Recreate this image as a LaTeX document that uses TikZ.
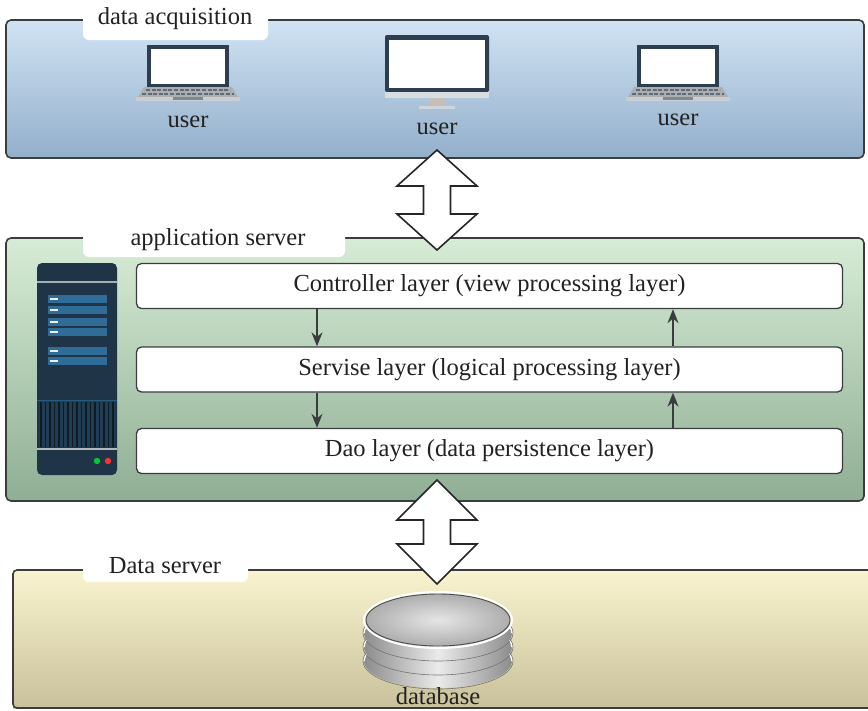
\documentclass[tikz,border=0pt]{standalone}
\usepackage{fontspec}
\setmainfont{LiberationSerif}[Extension=.ttf, UprightFont=*-Regular, BoldFont=*-Bold]
\usetikzlibrary{arrows.meta,calc}

\definecolor{edgegray}{HTML}{3A3D40}
\definecolor{txt}{HTML}{222222}
\definecolor{bluetop}{HTML}{D0E3F3}
\definecolor{bluebot}{HTML}{93AFCB}
\definecolor{greentop}{HTML}{D7ECD6}
\definecolor{greenbot}{HTML}{8FAE94}
\definecolor{yellowtop}{HTML}{F9F3CF}
\definecolor{yellowbot}{HTML}{C8C19B}
\definecolor{navy}{HTML}{1F3547}
\definecolor{navydark}{HTML}{0E1A24}
\definecolor{slotblue}{HTML}{2F6C98}
\definecolor{bezel}{HTML}{2C3E50}
\definecolor{alu}{HTML}{C9CED2}
\definecolor{keys}{HTML}{5E6B77}

\tikzset{
  panel/.style={draw=edgegray, line width=1.6pt, rounded corners=5pt},
  tab/.style={fill=white, rounded corners=6pt},
  bigtext/.style={text=txt, font=\fontsize{24.5}{27}\selectfont, inner sep=0pt},
  layer/.style={draw=edgegray, line width=1.3pt, fill=white, rounded corners=5pt,
    minimum width=706pt, minimum height=45pt, text=txt,
    font=\fontsize{24.5}{27}\selectfont},
  flow/.style={draw=edgegray, line width=1.8pt, -{Stealth[length=14pt,width=11pt]}},
  bigarrow/.style={draw=black!85, line width=1.6pt, fill=white, line join=miter},
}

% laptop icon: screen centre x, screen top y
\newcommand\laptopicon[1]{%
  \begin{scope}[shift={#1}]
    \fill[bezel] (-41,0) rectangle (41,42);
    \fill[white] (-37,4) rectangle (37,39);
    \fill[alu!85!black] (-44,42) -- (44,42) -- (50,52) -- (-50,52) -- cycle;
    \draw[keys, line width=2.2pt, dash pattern=on 4pt off 1.6pt] (-42,45) -- (42,45);
    \draw[keys, line width=2.2pt, dash pattern=on 4pt off 1.6pt] (-46,49) -- (46,49);
    \fill[alu] (-52,52) rectangle (52,56);
    \fill[keys!80] (-15,52) rectangle (15,55);
  \end{scope}}

% double-headed block arrow: centre, half length, head length, head half width, shaft half width
\newcommand\dblarrow[5]{%
  \begin{scope}[shift={#1}]
    \draw[bigarrow] (0,-#2) -- (#4,-#2+#3) -- (#5,-#2+#3) -- (#5,#2-#3)
      -- (#4,#2-#3) -- (0,#2) -- (-#4,#2-#3) -- (-#5,#2-#3)
      -- (-#5,-#2+#3) -- (-#4,-#2+#3) -- cycle;
  \end{scope}}

\begin{document}
\begin{tikzpicture}[x=1pt,y=-1pt]
\useasboundingbox (0,0) rectangle (868,710);
\fill[white] (0,0) rectangle (868,710);

% ---------------- data acquisition tier ----------------
\shade[top color=bluetop, bottom color=bluebot, rounded corners=5pt] (6,20) rectangle (864,158);
\draw[panel] (6,20) rectangle (864,158);
\fill[tab] (83,3) rectangle (268,40);
\node[bigtext] (acqlabel) at (175,19) {data acquisition};

\laptopicon{(188,45)}
\laptopicon{(678,45)}
\node[bigtext] (user1) at (188,122) {user};
\node[bigtext] (user3) at (678,120) {user};

% desktop monitor
\begin{scope}[shift={(437,35)}]
  \fill[bezel, rounded corners=2pt] (-52,0) rectangle (52,57);
  \fill[white] (-48,5) rectangle (48,53);
  \fill[alu!70] (-52,57) rectangle (52,63);
  \fill[alu!80!brown] (-7,63) -- (7,63) -- (9,72) -- (-9,72) -- cycle;
  \fill[alu!85] (-18,71) rectangle (18,74);
\end{scope}
\node[bigtext] (user2) at (437,129) {user};

% ---------------- application server tier ----------------
\shade[top color=greentop, bottom color=greenbot, rounded corners=5pt] (6,238) rectangle (864,501);
\draw[panel] (6,238) rectangle (864,501);
\fill[tab] (83,224) rectangle (345,257);
\node[bigtext] (applabel) at (218,240) {application server};

% server tower
\fill[navy, rounded corners=5pt] (37,263) rectangle (117,475);
\draw[white!60!navy, line width=1.6pt] (37,282) -- (117,282);
\foreach \ya in {295,306,318,328,347,357}{
  \fill[slotblue] (48,\ya) rectangle (107,\ya+8);
  \draw[white!90!slotblue, line width=1.6pt] (50,\ya+4) -- (58,\ya+4);
}
\draw[slotblue!70!navy, line width=1pt] (37,400) -- (117,400);
\fill[navy!85!slotblue] (39,401) rectangle (115,447);
\foreach \xa in {41,45.5,...,114}{
  \draw[navydark, line width=1.8pt] (\xa,402) -- (\xa,447);
}
\draw[white!65!navy, line width=2pt] (37,449) -- (117,449);
\fill[green!55!teal] (97,461) circle (3.2);
\fill[red!75!pink] (108,461) circle (3.2);

% layers
\node[layer] (ctrl) at (489.5,286) {Controller layer (view processing layer)};
\node[layer] (serv) at (489.5,369.5) {Servise layer (logical processing layer)};
\node[layer] (dao)  at (489.5,451) {Dao layer (data persistence layer)};

\coordinate (down) at (317,0);
\coordinate (up) at (673,0);
\draw[flow] (ctrl.south -| down) -- (serv.north -| down);
\draw[flow] (serv.south -| down) -- (dao.north -| down);
\draw[flow] (dao.north -| up) -- (serv.south -| up);
\draw[flow] (serv.north -| up) -- (ctrl.south -| up);

% ---------------- data server tier ----------------
\shade[top color=yellowtop, bottom color=yellowbot] (13,570) rectangle (880,708);
\draw[draw=edgegray, line width=1.6pt, rounded corners=4pt] (880,570) -- (13,570) -- (13,708) -- (880,708);
\fill[tab] (83,553) rectangle (248,582);
\node[bigtext] (datalabel) at (165,566) {Data server};

% database disk stack
\foreach \cy in {661,647,633}{
  \shade[left color=black!45, right color=black!45, middle color=black!8]
    (438,\cy) ellipse [x radius=74, y radius=27];
  \draw[white, line width=1.6pt] (364,\cy) arc[start angle=180, end angle=360, x radius=74, y radius=27];
  \draw[black!55, line width=0.6pt] (438,\cy) ellipse [x radius=75, y radius=28];
}
\draw[white, line width=2pt] (438,620) ellipse [x radius=74, y radius=28];
\shade[inner color=black!10, outer color=black!32] (438,620) ellipse [x radius=72, y radius=26];
\draw[black!70, line width=0.9pt] (438,620) ellipse [x radius=72, y radius=26];
\node[bigtext] (dblabel) at (438,696) {database};

% connections between tiers
\coordinate (link1) at (437,200);
\coordinate (link2) at (437,532);
\dblarrow{(link1)}{50}{36}{40}{13.5}
\dblarrow{(link2)}{52}{40}{40}{13.5}
\end{tikzpicture}
\end{document}
